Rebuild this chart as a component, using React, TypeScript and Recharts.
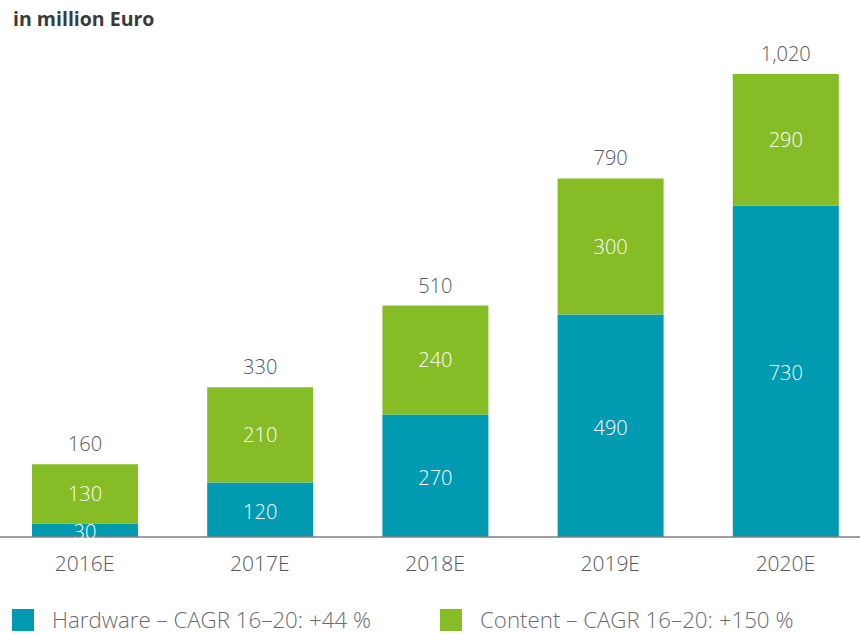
import React from 'react';
import { BarChart, Bar, XAxis, YAxis, LabelList } from 'recharts';

const years = ['2016E', '2017E', '2018E', '2019E', '2020E'];
const hardware = [30, 120, 270, 490, 730];
const content = [130, 210, 240, 300, 290];
const totals = [160, 330, 510, 790, 1020];

const TEAL = '#009AB1';
const GREEN = '#86BC25';
const FONT = "'Open Sans', 'Noto Sans', sans-serif";

const data = years.map((year, i) => ({
  year,
  hardware: hardware[i],
  content: content[i],
  total: totals[i],
}));

const legendItems = [
  { label: 'Hardware – CAGR 16–20: +44 %', color: TEAL },
  { label: 'Content – CAGR 16–20: +150 %', color: GREEN },
];

export default function App() {
  return (
    <div style={{ position: 'absolute', left: 0, top: 0, width: 860, height: 634, overflow: 'hidden', background: '#fff', fontFamily: FONT }}>
      <div style={{ position: 'absolute', left: 13, top: 5, fontSize: 19.5, fontWeight: 700, color: '#3a3a3d' }}>
        in million Euro
      </div>
      <div style={{ position: 'absolute', left: -3, top: 0 }}>
        <BarChart width={880} height={634} data={data} margin={{ top: 74, right: 4, left: 0, bottom: 57 }} barSize={106}>
          <XAxis
            dataKey="year"
            height={40}
            tickLine={false}
            tickMargin={13}
            axisLine={{ stroke: '#7f7f7f', strokeWidth: 1.5 }}
            tick={{ fill: '#55565a', fontSize: 21, fontFamily: FONT, fontWeight: 300 }}
          />
          <YAxis hide domain={[0, 1020]} />
          <Bar dataKey="hardware" stackId="a" fill={TEAL} isAnimationActive={false}>
            <LabelList dataKey="hardware" position="center" dy={2} fill="#fff" fontSize={20} fontFamily={FONT} fontWeight={300} />
          </Bar>
          <Bar dataKey="content" stackId="a" fill={GREEN} isAnimationActive={false}>
            <LabelList dataKey="content" position="center" dy={0} fill="#fff" fontSize={20} fontFamily={FONT} fontWeight={300} />
            <LabelList
              dataKey="total"
              position="top"
              offset={13}
              fill="#55565a"
              fontSize={20}
              fontFamily={FONT}
              fontWeight={300}
              formatter={(v: number) => v.toLocaleString('en-US')}
            />
          </Bar>
        </BarChart>
      </div>
      {legendItems.map((item, i) => (
        <div key={item.label} style={{ position: 'absolute', left: i === 0 ? 12 : 440, top: 607, height: 26, display: 'flex', alignItems: 'center' }}>
          <span style={{ display: 'inline-block', width: 22, height: 22, background: item.color, marginRight: 18 }} />
          <span style={{ fontSize: 22.3, lineHeight: '26px', fontWeight: 300, color: '#6b6c70' }}>{item.label}</span>
        </div>
      ))}
    </div>
  );
}
